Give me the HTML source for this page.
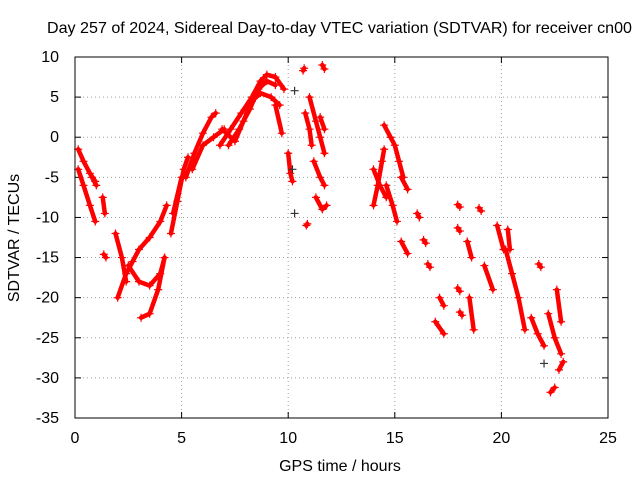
<!DOCTYPE html>
<html><head><meta charset="utf-8"><style>
body{margin:0;background:#fff}
svg text{font-family:"Liberation Sans",sans-serif;font-size:16px;fill:#000}
</style></head><body>
<svg id="chart" width="640" height="480" xmlns="http://www.w3.org/2000/svg">
<text x="47" y="33" textLength="585" lengthAdjust="spacingAndGlyphs">Day 257 of 2024, Sidereal Day-to-day VTEC variation (SDTVAR) for receiver cn00</text>
<text x="340" y="471" text-anchor="middle">GPS time / hours</text>
<text transform="translate(19,238) rotate(-90)" text-anchor="middle">SDTVAR / TECUs</text>
<g id="grid"></g><g id="ticks"></g><g id="marks"></g>
<rect x="75" y="57" width="533" height="361" fill="none" stroke="#000"/>
</svg>
<script>
const xTicks=[0,5,10,15,20,25];
const yTicks=[10,5,0,-5,-10,-15,-20,-25,-30,-35];
const tracks=[
[[0.15,-1.5],[0.4,-3],[0.7,-4.5],[0.95,-5.5]],
[[0.15,-4],[0.4,-6],[0.7,-8.5],[0.95,-10.5]],
[[0.8,-5],[1.0,-6]],
[[1.3,-7.5],[1.4,-9.5]],
[[1.35,-14.6],[1.45,-15]],
[[1.9,-12],[2.2,-15],[2.4,-18]],
[[2.0,-20],[2.4,-17],[2.7,-15.5],[3.0,-14],[3.5,-12.5],[4.0,-10.5],[4.3,-8.5]],
[[2.5,-16],[3.0,-18],[3.5,-18.5],[4.0,-17],[4.2,-15]],
[[3.1,-22.5],[3.5,-22],[3.9,-19],[4.2,-15]],
[[4.5,-12],[4.8,-8],[5.1,-4],[5.3,-2.5]],
[[4.6,-9.5],[5.0,-5]],
[[5.2,-5],[5.6,-2],[6.0,0.5],[6.4,2.5],[6.6,3]],
[[5.5,-4],[6.0,-1],[6.5,0],[7.0,1]],
[[6.8,-1],[7.3,1],[7.8,3],[8.3,5],[8.7,7],[9.0,7.8],[9.4,7.5],[9.8,6]],
[[6.9,1],[7.5,-0.5],[7.9,2],[8.3,4.5],[8.7,5.5],[9.2,5],[9.6,4]],
[[7.2,-1],[7.7,1],[8.2,3.5],[8.6,6],[9.0,7],[9.4,6.5]],
[[9.4,4],[9.7,0.5]],
[[10.0,-2],[10.1,-4.5],[10.2,-5.5]],
[[10.7,8.3],[10.75,8.6]],
[[10.8,3],[11.0,1],[11.1,-1]],
[[11.0,5],[11.3,2],[11.5,0],[11.7,-2]],
[[11.2,-3],[11.5,-5],[11.7,-6]],
[[11.5,2.5],[11.7,1]],
[[11.6,9],[11.7,8.5]],
[[11.3,-7.5],[11.6,-9],[11.8,-8.5]],
[[10.85,-11],[10.9,-10.8]],
[[14.0,-8.5],[14.2,-6],[14.4,-3],[14.5,-1.5]],
[[14.0,-4],[14.3,-6],[14.6,-7.5]],
[[14.5,1.5],[14.8,0],[15.0,-1],[15.2,-3],[15.4,-5]],
[[15.3,-5],[15.6,-6.5]],
[[14.6,-6],[14.9,-8.5],[15.1,-10.5]],
[[15.3,-13],[15.6,-14.5]],
[[16.05,-9.5],[16.15,-10]],
[[16.35,-12.8],[16.45,-13.2]],
[[16.55,-15.8],[16.65,-16.2]],
[[16.9,-23],[17.3,-24.5]],
[[17.1,-20],[17.3,-21]],
[[17.95,-8.4],[18.05,-8.7]],
[[17.95,-11.3],[18.05,-11.7]],
[[17.95,-18.8],[18.05,-19.2]],
[[18.05,-21.8],[18.15,-22.2]],
[[18.4,-13],[18.6,-15]],
[[18.5,-20],[18.7,-24]],
[[18.95,-8.8],[19.05,-9.2]],
[[19.2,-16],[19.6,-19]],
[[19.8,-11],[20.1,-14]],
[[20.2,-14],[20.5,-17],[20.8,-20],[21.1,-24]],
[[20.3,-11.5],[20.4,-14]],
[[21.4,-22.5],[21.7,-24.5],[22.0,-26]],
[[21.75,-15.8],[21.85,-16.2]],
[[22.2,-22],[22.5,-25],[22.8,-27]],
[[22.3,-31.8],[22.5,-31.2]],
[[22.6,-19],[22.8,-23]],
[[22.7,-29],[22.9,-28]]
];
const blackPts=[[10.3,5.8],[10.2,-4],[10.3,-9.5],[22.0,-28.2]];
const X0=75,X1=608,Y0=418,Y1=57;
const xs=v=>X0+(v-0)/25*(X1-X0);
const ys=v=>Y0-(v+35)/45*(Y0-Y1);
const NS="http://www.w3.org/2000/svg";
function mk(tag,attrs,parent){const e=document.createElementNS(NS,tag);for(const k in attrs)e.setAttribute(k,attrs[k]);parent.appendChild(e);return e;}
const grid=document.getElementById('grid'),ticks=document.getElementById('ticks'),marks=document.getElementById('marks');
xTicks.forEach(t=>{const x=xs(t);
 if(t>0&&t<25){const g=mk('line',{x1:x,x2:x,y1:Y1,y2:Y0,stroke:'#a0a0a0','stroke-dasharray':'1,3'},grid);
 
 }
 mk('line',{x1:x,x2:x,y1:Y0,y2:Y0-6,stroke:'#000'},ticks);mk('line',{x1:x,x2:x,y1:Y1,y2:Y1+6,stroke:'#000'},ticks);
 const l=mk('text',{x:x,y:Y0+25,'text-anchor':'middle'},ticks);l.textContent=t;
 
 });
yTicks.forEach(t=>{const y=ys(t);
 if(t>-35&&t<10){const g=mk('line',{x1:X0,x2:X1,y1:y,y2:y,stroke:'#a0a0a0','stroke-dasharray':'1,3'},grid);
 
 }
 mk('line',{x1:X0,x2:X0+6,y1:y,y2:y,stroke:'#000'},ticks);mk('line',{x1:X1,x2:X1-6,y1:y,y2:y,stroke:'#000'},ticks);
 const l=mk('text',{x:X0-16,y:y+5,'text-anchor':'end'},ticks);l.textContent=t;
 
 });
function plus(x,y,c,parent){mk('path',{d:`M${x-4},${y}h8M${x},${y-4}v8`,stroke:c,'stroke-width':1.2},parent);}
tracks.forEach(tr=>{const g=mk('g',{},marks);
 
 
 mk('polyline',{points:tr.map(p=>xs(p[0])+','+ys(p[1])).join(' '),fill:'none',stroke:'#f00','stroke-width':4.5,'stroke-linecap':'round','stroke-linejoin':'round'},g);
 tr.forEach(p=>plus(xs(p[0]),ys(p[1]),'#f00',g));});
blackPts.forEach(p=>{const g=mk('g',{},marks);
 
 
 plus(xs(p[0]),ys(p[1]),'#333',g);});
</script>
</body></html>
